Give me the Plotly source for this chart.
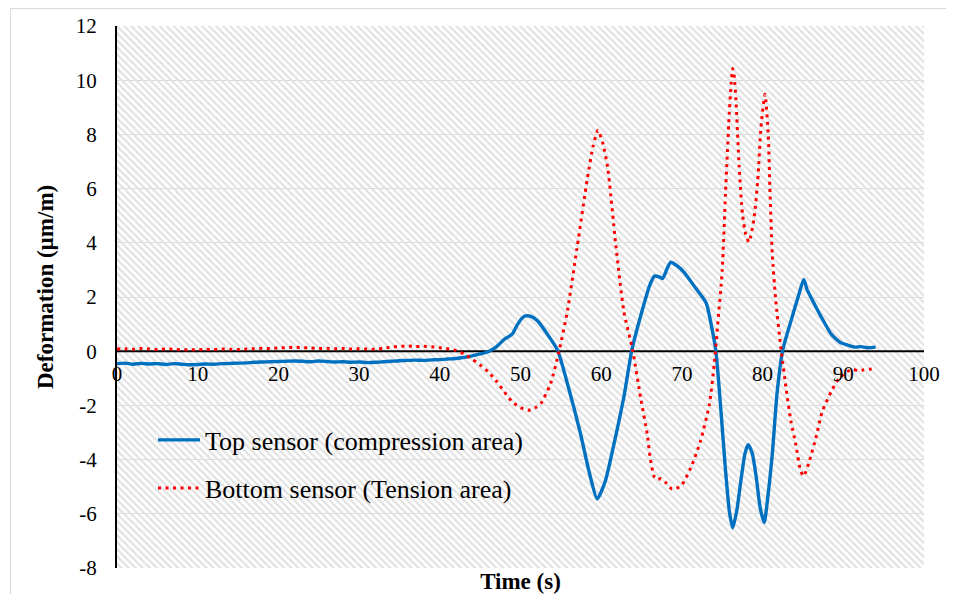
import plotly.graph_objects as go

# ---------------- data ----------------
top_t = [0, 1, 2, 3, 4, 5, 6, 7, 8, 9, 10, 11, 12, 13, 14, 15, 16, 17, 18, 19, 20,
         21, 22, 23, 24, 25, 26, 27, 28, 29, 30, 31, 32, 33, 34, 35, 36, 37, 38, 39, 40,
         41, 42, 43, 44, 45, 46, 47, 48, 49, 49.6, 50.2, 50.6, 51.2, 52.1, 53.3, 54.6,
         55.8, 57.4, 58.5, 59.5, 60.5, 61.6, 62.8, 63.8, 65.0, 66.0, 66.6, 67.2, 67.6,
         68.2, 68.6, 69.5, 70.3, 71.7, 73.0, 73.6, 74.2, 74.8, 75.4, 75.9, 76.3, 76.8,
         77.3, 77.8, 78.2, 78.7, 79.2, 79.7, 80.2, 80.6, 81.2, 81.8, 82.5, 83.5, 84.5,
         85.1, 85.5, 86.0, 87.2, 88.5, 89.7, 90.5, 91.4, 92.2, 93.0, 94.0]
top_v = [-0.46, -0.44, -0.48, -0.45, -0.47, -0.46, -0.49, -0.46, -0.48, -0.50, -0.49,
         -0.47, -0.48, -0.46, -0.45, -0.44, -0.43, -0.41, -0.40, -0.39, -0.38,
         -0.37, -0.36, -0.37, -0.39, -0.36, -0.38, -0.40, -0.39, -0.41, -0.40,
         -0.42, -0.41, -0.39, -0.37, -0.35, -0.34, -0.33, -0.34, -0.32, -0.31,
         -0.29, -0.27, -0.23, -0.17, -0.10, -0.02, 0.16, 0.44, 0.64, 0.97, 1.22, 1.30,
         1.29, 1.12, 0.64, 0.03, -1.18, -3.0, -4.45, -5.45, -4.8, -3.4, -1.7, 0.05, 1.42,
         2.42, 2.77, 2.74, 2.68, 3.07, 3.28, 3.13, 2.9, 2.33, 1.79, 1.03, 0.03, -2.05,
         -4.38, -5.95, -6.52, -5.88, -4.8, -3.8, -3.45, -3.75, -4.62, -5.78, -6.32, -5.5,
         -3.8, -1.52, 0.05, 1.1, 2.1, 2.65, 2.28, 1.98, 1.3, 0.63, 0.31, 0.23, 0.15,
         0.17, 0.13, 0.15]

bot_t = [0, 1, 2, 3, 4, 5, 6, 7, 8, 9, 10, 11, 12, 13, 14, 15, 16, 17, 18, 19, 20,
         21, 22, 23, 24, 25, 26, 27, 28, 29, 30, 31, 32, 33, 34, 35, 36, 37, 38, 39, 40,
         41, 42, 43, 44, 45, 46, 47, 48, 49, 50, 51, 52, 52.5, 53.7, 54.8, 55.8, 57.0,
         58.3, 59.0, 59.6, 60.2, 60.8, 61.8, 62.8, 63.9, 64.9, 65.7, 66.1, 66.6, 67.0,
         67.4, 68.0, 68.8, 69.9, 71.1, 72.3, 73.4, 74.0, 74.4, 75.0, 75.4, 75.8, 76.1,
         76.3, 76.5, 76.7, 77.1, 77.5, 77.9, 78.3, 78.9, 79.4, 79.8, 80.3, 80.7, 80.9,
         81.2, 81.6, 82.3, 82.9, 83.5, 84.1, 84.7, 85.1, 85.8, 86.6, 87.4, 88.5, 89.5,
         90.5, 91.2, 91.8, 92.5, 93.2, 93.8]
bot_v = [0.08, 0.09, 0.07, 0.10, 0.08, 0.06, 0.08, 0.07, 0.05, 0.06, 0.05, 0.07, 0.06,
         0.08, 0.07, 0.06, 0.08, 0.09, 0.11, 0.10, 0.12, 0.13, 0.15, 0.13, 0.12, 0.10,
         0.11, 0.09, 0.10, 0.08, 0.09, 0.08, 0.07, 0.11, 0.15, 0.18, 0.19, 0.17, 0.18,
         0.16, 0.13, 0.09, 0.03, -0.10, -0.29, -0.51, -0.76, -1.1, -1.5, -1.88, -2.08,
         -2.18, -2.06, -1.94, -1.22, 0.03, 1.47, 3.8, 6.4, 7.57, 8.15, 7.68, 6.78, 3.95,
         1.48, 0.03, -1.74, -3.05, -4.0, -4.65, -4.74, -4.7, -4.85, -5.09, -4.97, -4.3,
         -3.32, -1.97, -0.49, 0.86, 3.0, 5.8, 8.38, 9.88, 10.43, 10.1, 9.27, 6.8, 5.08,
         4.32, 4.03, 4.82, 6.3, 8.27, 9.48, 8.0, 6.06, 3.58, 1.98, 0.03, -1.35, -2.57,
         -3.42, -4.4, -4.61, -4.05, -3.2, -2.22, -1.49, -0.99, -0.75, -0.67, -0.72,
         -0.69, -0.67, -0.65]

x_ticks = [0, 10, 20, 30, 40, 50, 60, 70, 80, 90, 100]
y_ticks = [-8, -6, -4, -2, 0, 2, 4, 6, 8, 10, 12]
y_tick_labels = ["-8", "-6", "-4", "-2", "0", "2", "4", "6", "8", "10", "12"]
x_range = [0, 100]
y_range = [-8, 12]

series_names = ["Top sensor (compression area)", "Bottom sensor (Tension area)"]
x_title = "<b>Time (s)</b>"
y_title = "<b>Deformation (µm/m)</b>"

# ---------------- figure ----------------
FONT = "Liberation Serif, Times New Roman, serif"
W, H = 938, 586            # page has an 8px body margin
L, R, T, B = 109, 22, 18, 26
PW, PH = W - L - R, H - T - B

def px_x(xf):   # figure px -> paper x
    return (xf - L) / PW

def px_y(yf):   # figure px -> paper y
    return (H - B - yf) / PH

fig = go.Figure()

# hatched plot-area background
fig.add_trace(go.Scatter(
    x=[x_range[0], x_range[1], x_range[1], x_range[0], x_range[0]],
    y=[y_range[0], y_range[0], y_range[1], y_range[1], y_range[0]],
    mode="lines", line=dict(width=0), fill="toself",
    fillcolor="rgba(0,0,0,0)",
    fillpattern=dict(shape="\\", size=5, solidity=0.45, fgcolor="#e2e2e2",
                     bgcolor="rgba(0,0,0,0)", fillmode="replace"),
    showlegend=False, hoverinfo="skip"))

# horizontal axis baseline at y = 0 (drawn over the hatch, under the data)
fig.add_trace(go.Scatter(
    x=x_range, y=[0, 0], mode="lines", line=dict(color="black", width=2),
    showlegend=False, hoverinfo="skip"))

fig.add_trace(go.Scatter(
    x=top_t, y=top_v, mode="lines", name=series_names[0],
    line=dict(color="#0070C0", width=3.4, shape="spline", smoothing=0.6),
    legend="legend"))
fig.add_trace(go.Scatter(
    x=bot_t, y=bot_v, mode="lines", name=series_names[1],
    line=dict(color="#FF0000", width=3, dash="3px,4.5px", shape="spline", smoothing=0.6),
    legend="legend2"))

# dummy trace so the crossing x-axis (labels at y=0) is drawn
fig.add_trace(go.Scatter(x=[None], y=[None], xaxis="x2", showlegend=False, hoverinfo="skip"))

zero_pos = (0 - y_range[0]) / (y_range[1] - y_range[0])

fig.update_layout(
    width=W, height=H,
    margin=dict(l=L, r=R, t=T, b=B),
    paper_bgcolor="white", plot_bgcolor="white",
    font=dict(family=FONT, color="black", size=21),
    xaxis=dict(range=x_range, showticklabels=False, ticks="", showgrid=False,
               zeroline=False, showline=False, automargin=False,
               title=dict(text=x_title, font=dict(size=23), standoff=7)),
    xaxis2=dict(overlaying="x", anchor="free", position=zero_pos, range=x_range,
                tickvals=x_ticks, ticks="", showgrid=False, zeroline=False,
                showline=False, ticklabelstandoff=8, tickfont=dict(size=21),
                automargin=False),
    yaxis=dict(range=y_range, tickvals=y_ticks, ticktext=y_tick_labels,
               showgrid=True, gridcolor="#d9d9d9", gridwidth=1,
               zeroline=False, automargin=False,
               showline=True, linecolor="black", linewidth=2,
               ticks="", ticklabelstandoff=14, tickfont=dict(size=21)),
    legend=dict(x=px_x(145), y=px_y(432), xanchor="left", yanchor="middle",
                bgcolor="rgba(0,0,0,0)", font=dict(size=26), itemwidth=42),
    legend2=dict(x=px_x(145), y=px_y(480), xanchor="left", yanchor="middle",
                 bgcolor="rgba(0,0,0,0)", font=dict(size=26), itemwidth=42),
    annotations=[dict(text=y_title, textangle=-90, xref="paper", yref="paper",
                      x=px_x(37), y=px_y(279), xanchor="center", yanchor="middle",
                      showarrow=False, font=dict(size=23))],
    shapes=[dict(type="rect", xref="paper", yref="paper",
                 x0=px_x(2.5), x1=px_x(W + 20),
                 y0=px_y(H + 20), y1=px_y(0.5),
                 line=dict(color="#d9d9d9", width=1), fillcolor="rgba(0,0,0,0)",
                 layer="below")],
)

fig.write_html("out.html")
